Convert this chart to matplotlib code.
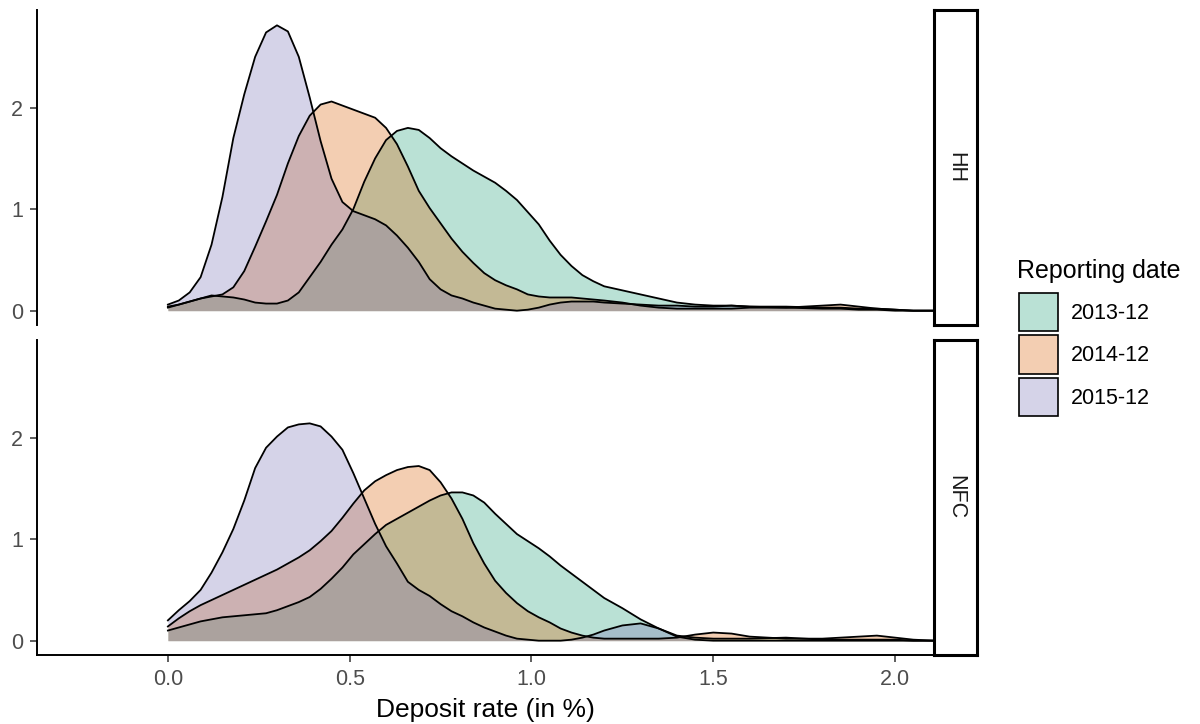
import matplotlib.pyplot as plt
import numpy as np
from matplotlib.patches import Patch
from matplotlib.colors import to_rgb

plt.rcParams['font.family'] = ['Liberation Sans', 'DejaVu Sans']

# density readings, shared x grid (deposit rate in %)
rate = [0.00, 0.03, 0.06, 0.09, 0.12, 0.15, 0.18, 0.21, 0.24, 0.27,
        0.30, 0.33, 0.36, 0.39, 0.42, 0.45, 0.48, 0.51, 0.54, 0.57,
        0.60, 0.63, 0.66, 0.69, 0.72, 0.75, 0.78, 0.81, 0.84, 0.87,
        0.90, 0.93, 0.96, 0.99, 1.02, 1.05, 1.08, 1.11, 1.14, 1.17,
        1.20, 1.25, 1.30, 1.35, 1.40, 1.45, 1.50, 1.55, 1.60, 1.70,
        1.80, 1.85, 1.90, 1.95, 2.00, 2.05, 2.11]

hh_2013 = [0.04, 0.06, 0.09, 0.12, 0.15, 0.14, 0.13, 0.11, 0.08, 0.07,
           0.07, 0.10, 0.18, 0.33, 0.48, 0.65, 0.80, 1.00, 1.27, 1.50,
           1.68, 1.77, 1.80, 1.78, 1.70, 1.60, 1.52, 1.45, 1.38, 1.32,
           1.26, 1.18, 1.09, 0.97, 0.85, 0.69, 0.55, 0.44, 0.35, 0.29,
           0.24, 0.20, 0.16, 0.12, 0.08, 0.06, 0.05, 0.05, 0.04, 0.04,
           0.03, 0.03, 0.02, 0.02, 0.01, 0.00, 0.00]
hh_2014 = [0.03, 0.06, 0.09, 0.12, 0.14, 0.16, 0.23, 0.39, 0.63, 0.88,
           1.14, 1.45, 1.72, 1.92, 2.03, 2.06, 2.02, 1.98, 1.94, 1.90,
           1.80, 1.64, 1.42, 1.18, 1.01, 0.86, 0.71, 0.58, 0.47, 0.37,
           0.30, 0.25, 0.21, 0.16, 0.14, 0.13, 0.13, 0.13, 0.12, 0.11,
           0.10, 0.08, 0.05, 0.03, 0.02, 0.02, 0.02, 0.02, 0.03, 0.03,
           0.05, 0.06, 0.04, 0.02, 0.01, 0.00, 0.00]
hh_2015 = [0.06, 0.10, 0.18, 0.33, 0.65, 1.12, 1.70, 2.13, 2.50, 2.74,
           2.81, 2.75, 2.50, 2.10, 1.67, 1.30, 1.07, 0.98, 0.94, 0.90,
           0.84, 0.74, 0.62, 0.48, 0.31, 0.21, 0.15, 0.12, 0.08, 0.05,
           0.02, 0.01, 0.00, 0.01, 0.03, 0.06, 0.08, 0.09, 0.09, 0.09,
           0.08, 0.07, 0.06, 0.05, 0.05, 0.04, 0.04, 0.05, 0.04, 0.03,
           0.02, 0.02, 0.01, 0.01, 0.00, 0.00, 0.00]

nfc_2013 = [0.10, 0.13, 0.16, 0.19, 0.21, 0.23, 0.24, 0.25, 0.26, 0.27,
            0.30, 0.34, 0.38, 0.43, 0.51, 0.61, 0.72, 0.85, 0.95, 1.05,
            1.14, 1.20, 1.26, 1.32, 1.38, 1.43, 1.46, 1.46, 1.43, 1.36,
            1.25, 1.15, 1.05, 0.98, 0.91, 0.83, 0.74, 0.66, 0.58, 0.50,
            0.42, 0.32, 0.21, 0.12, 0.05, 0.03, 0.02, 0.02, 0.02, 0.03,
            0.01, 0.01, 0.01, 0.01, 0.01, 0.00, 0.00]
nfc_2014 = [0.14, 0.22, 0.29, 0.35, 0.40, 0.45, 0.50, 0.55, 0.60, 0.65,
            0.70, 0.76, 0.82, 0.89, 0.98, 1.08, 1.21, 1.35, 1.48, 1.57,
            1.63, 1.68, 1.71, 1.72, 1.68, 1.56, 1.40, 1.20, 0.96, 0.76,
            0.59, 0.47, 0.37, 0.29, 0.23, 0.18, 0.12, 0.08, 0.05, 0.03,
            0.02, 0.02, 0.02, 0.02, 0.03, 0.06, 0.08, 0.07, 0.04, 0.02,
            0.02, 0.03, 0.04, 0.05, 0.03, 0.01, 0.00]
nfc_2015 = [0.20, 0.30, 0.39, 0.50, 0.67, 0.87, 1.10, 1.38, 1.70, 1.90,
            2.01, 2.10, 2.13, 2.14, 2.11, 2.01, 1.88, 1.65, 1.40, 1.15,
            0.93, 0.76, 0.58, 0.50, 0.44, 0.36, 0.29, 0.24, 0.18, 0.13,
            0.09, 0.05, 0.02, 0.01, 0.00, 0.00, 0.00, 0.01, 0.03, 0.06,
            0.10, 0.15, 0.17, 0.12, 0.04, 0.01, 0.00, 0.00, 0.00, 0.00,
            0.00, 0.00, 0.00, 0.00, 0.00, 0.00, 0.00]

dates = ['2013-12', '2014-12', '2015-12']
colors = ['#1B9E77', '#D95F02', '#7570B3']
panels = ['HH', 'NFC']
panel_data = [[hh_2013, hh_2014, hh_2015], [nfc_2013, nfc_2014, nfc_2015]]
xticks = [0.0, 0.5, 1.0, 1.5, 2.0]
yticks = [0, 1, 2]

alpha = 0.3
W, H = 1200, 724
fig = plt.figure(figsize=(W / 100, H / 100), dpi=100)

panel_left = 37 / W
panel_w = (934 - 37) / W
panel_h = 315 / H
panel_bottoms = [(H - 325) / H, (H - 655) / H]

for i, name in enumerate(panels):
    ax = fig.add_axes([panel_left, panel_bottoms[i], panel_w, panel_h])
    for series, col in zip(panel_data[i], colors):
        ax.fill_between(rate, 0, series, color=col, alpha=alpha, linewidth=0)
        ax.plot(rate, series, color='black', linewidth=1.3)
    ax.set_xlim(-0.36, 2.107)
    ax.set_ylim(-0.141, 2.961)
    for s in ['top', 'right']:
        ax.spines[s].set_visible(False)
    ax.spines['left'].set_linewidth(1.4)
    ax.set_yticks(yticks)
    ax.tick_params(axis='y', length=5, width=1.1, color='#333333',
                   labelcolor='#4d4d4d', labelsize=15.5, pad=5)
    if i == 0:
        ax.spines['bottom'].set_visible(False)
        ax.set_xticks([])
    else:
        ax.spines['bottom'].set_linewidth(1.4)
        ax.set_xticks(xticks)
        ax.set_xticklabels(['%.1f' % t for t in xticks])
        ax.tick_params(axis='x', length=5, width=1.1, color='#333333',
                       labelcolor='#4d4d4d', labelsize=15.5, pad=5)

    # facet strip on the right
    sx = fig.add_axes([934 / W, panel_bottoms[i], 43 / W, panel_h])
    sx.set_xticks([])
    sx.set_yticks([])
    for s in sx.spines.values():
        s.set_linewidth(2.2)
        s.set_color('black')
    sx.text(0.5, 0.5, name, rotation=270, ha='center', va='center',
            fontsize=15.5, color='#1a1a1a', transform=sx.transAxes)

fig.text(485.5 / W, (H - 717) / H, 'Deposit rate (in %)', ha='center',
         va='baseline', fontsize=19, color='black')

# legend: title as its own text so the gap to the keys matches ggplot
fig.text(1017 / W, (H - 278) / H, 'Reporting date', ha='left',
         va='baseline', fontsize=18, color='black')
handles = [Patch(facecolor=(*to_rgb(c), alpha), edgecolor='black', linewidth=1.2)
           for c in colors]
leg = fig.legend(handles, dates, loc='upper left',
                 bbox_to_anchor=(1019 / W, (H - 293) / H), frameon=False,
                 borderpad=0, fontsize=15.5,
                 handlelength=1.81, handleheight=2.35, labelspacing=0.2,
                 handletextpad=0.6, borderaxespad=0)

plt.savefig('out.png', dpi=100)
